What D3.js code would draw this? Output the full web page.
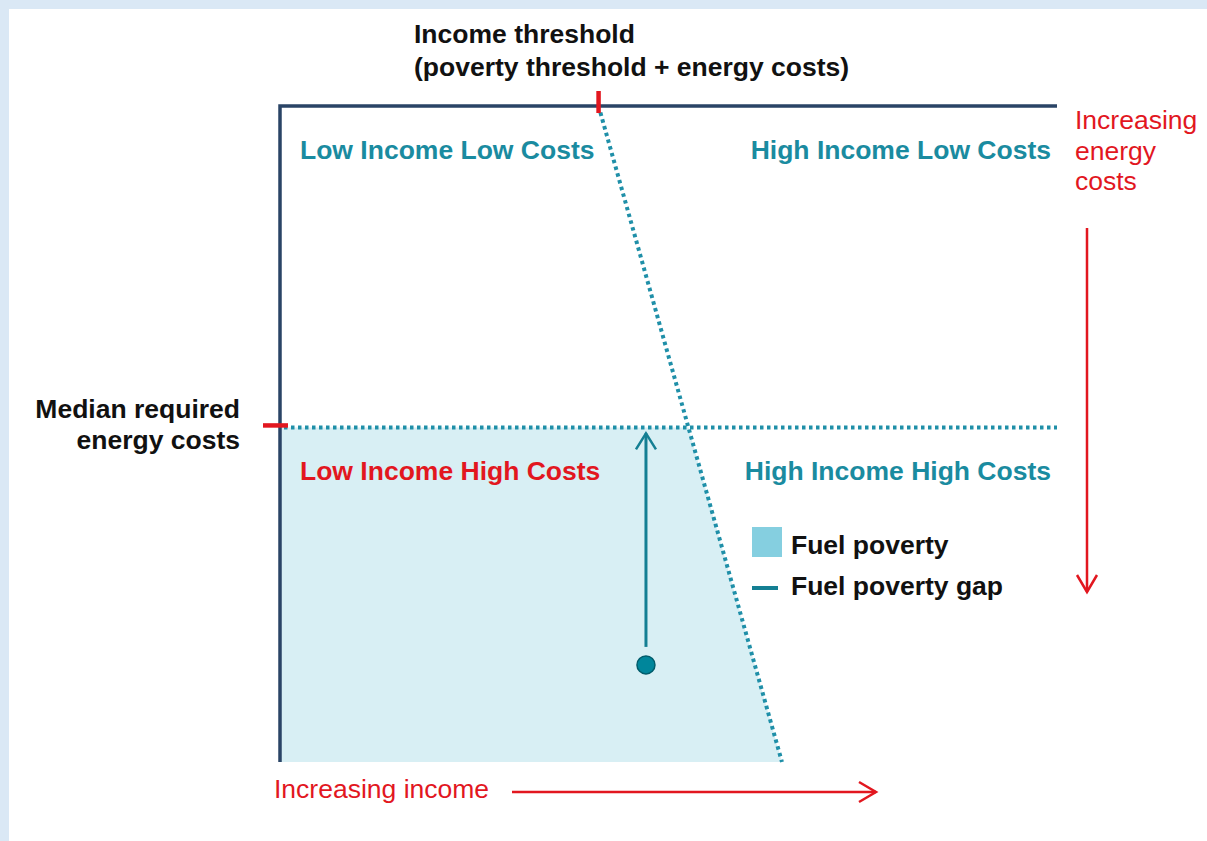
<!DOCTYPE html>
<html lang="en">
<head>
<meta charset="UTF-8">
<title>Fuel poverty</title>
<script src="https://d3js.org/d3.v7.min.js"></script>
<style>
  body { margin: 0; background: #dae8f5; }
  svg { display: block; }
  text { font-family: "Liberation Sans", Arial, Helvetica, sans-serif; }
</style>
</head>
<body>
<script>
var W = 1207, H = 841;

// conceptual axes: income 0..100 left->right, energy costs 0..100 top->bottom
var incomeDomain = [0, 100];
var costDomain = [0, 100];
var medianCost = 49;
// income threshold at zero cost and at max cost
var thresholdIncome = [41, 64.6];
var gapPoint = {income: 47.1, cost: 85.2};

var quadrants = ["Low Income Low Costs", "High Income Low Costs", "Low Income High Costs", "High Income High Costs"];
var legendLabels = ["Fuel poverty", "Fuel poverty gap"];

var x = d3.scaleLinear().domain(incomeDomain).range([280, 1057]);
var y = d3.scaleLinear().domain(costDomain).range([106, 762]);

var teal = "#1a8ba0", red = "#e2171f", navy = "#2a4466", dot = "#1f8fa8", FS = 26.5;

var svg = d3.select("body").append("svg").attr("width", W).attr("height", H);
svg.append("rect").attr("x", 9).attr("y", 9).attr("width", W - 9).attr("height", H - 9).attr("fill", "#fff");

var defs = svg.append("defs");
function marker(id, color, w, h) {
  defs.append("marker").attr("id", id).attr("viewBox", "-25 -25 50 50")
    .attr("refX", 0).attr("refY", 0).attr("markerWidth", 50).attr("markerHeight", 50)
    .attr("markerUnits", "userSpaceOnUse").attr("orient", "auto")
    .append("path").attr("d", "M" + (-w) + "," + (-h) + " L0,0 L" + (-w) + "," + h).attr("fill", "none")
    .attr("stroke", color).attr("stroke-width", 2.5);
}
marker("arrRed", red, 17, 10);
marker("arrTeal", "#147f93", 16, 10);

// threshold line function of cost
function thrX(c) {
  return x(thresholdIncome[0] + (thresholdIncome[1] - thresholdIncome[0]) * (c - costDomain[0]) / (costDomain[1] - costDomain[0]));
}

// fuel poverty area
var poly = [[x(0), y(medianCost)], [thrX(medianCost), y(medianCost)], [thrX(costDomain[1]), y(costDomain[1])], [x(0), y(costDomain[1])]];
svg.append("path").attr("d", "M" + poly.join("L") + "Z").attr("fill", "#d8eff4");

// frame: top and left
svg.append("path").attr("d", "M" + x(0) + "," + y(costDomain[1]) + "V" + y(0) + "H" + x(100))
  .attr("fill", "none").attr("stroke", navy).attr("stroke-width", 3.5);

// dotted lines
svg.append("line").attr("x1", x(0) + 4).attr("x2", x(100)).attr("y1", y(medianCost)).attr("y2", y(medianCost))
  .attr("stroke", dot).attr("stroke-width", 4).attr("stroke-dasharray", "3.5,3.5");
svg.append("line").attr("x1", thrX(1)).attr("y1", y(1)).attr("x2", thrX(100)).attr("y2", y(100))
  .attr("stroke", dot).attr("stroke-width", 4).attr("stroke-dasharray", "3.5,3.5");

// red ticks
svg.append("line").attr("x1", thrX(0)).attr("x2", thrX(0)).attr("y1", y(0) - 15).attr("y2", y(0) + 7)
  .attr("stroke", red).attr("stroke-width", 4.5);
svg.append("line").attr("x1", x(0) - 17).attr("x2", x(0) + 8).attr("y1", y(medianCost) - 2).attr("y2", y(medianCost) - 2)
  .attr("stroke", red).attr("stroke-width", 4.5);

// fuel poverty gap arrow
svg.append("line").attr("x1", x(gapPoint.income)).attr("x2", x(gapPoint.income))
  .attr("y1", y(gapPoint.cost) - 18).attr("y2", y(medianCost) + 6)
  .attr("stroke", "#147f93").attr("stroke-width", 3).attr("marker-end", "url(#arrTeal)");
svg.append("circle").attr("cx", x(gapPoint.income)).attr("cy", y(gapPoint.cost)).attr("r", 9)
  .attr("fill", "#00869b").attr("stroke", "#005c6b").attr("stroke-width", 1.5);

// quadrant labels
function label(t, px, py, anchor, color) {
  svg.append("text").attr("x", px).attr("y", py).attr("text-anchor", anchor)
    .attr("font-size", FS).attr("font-weight", "bold").attr("fill", color).text(t);
}
label(quadrants[0], 300, 159, "start", teal);
label(quadrants[1], 1051, 159, "end", teal);
label(quadrants[2], 300, 480, "start", red);
label(quadrants[3], 1051, 480, "end", teal);

// top annotation
var thresholdText = svg.append("text").attr("font-size", FS).attr("font-weight", "bold").attr("fill", "#111");
thresholdText.append("tspan").attr("x", 414).attr("y", 43).text("Income threshold");
thresholdText.append("tspan").attr("x", 414).attr("y", 76).text("(poverty threshold + energy costs)");

// left annotation
var med = svg.append("text").attr("font-size", FS).attr("font-weight", "bold").attr("fill", "#111").attr("text-anchor", "end");
med.append("tspan").attr("x", 240).attr("y", 418).text("Median required");
med.append("tspan").attr("x", 240).attr("y", 449).text("energy costs");

// right annotation
var inc = svg.append("text").attr("font-size", FS).attr("fill", red);
["Increasing", "energy", "costs"].forEach(function (t, i) {
  inc.append("tspan").attr("x", 1075).attr("y", 129 + i * 30.5).text(t);
});
svg.append("line").attr("x1", 1087).attr("x2", 1087).attr("y1", 228).attr("y2", 592)
  .attr("stroke", red).attr("stroke-width", 2.5).attr("marker-end", "url(#arrRed)");

// bottom annotation
svg.append("text").attr("x", 274).attr("y", 798).attr("font-size", FS).attr("fill", red).text("Increasing income");
svg.append("line").attr("x1", 512).attr("x2", 876).attr("y1", 792).attr("y2", 792)
  .attr("stroke", red).attr("stroke-width", 2.5).attr("marker-end", "url(#arrRed)");

// legend
svg.append("rect").attr("x", 752).attr("y", 527).attr("width", 30).attr("height", 30).attr("fill", "#85cfe0");
svg.append("line").attr("x1", 752).attr("x2", 778).attr("y1", 588).attr("y2", 588).attr("stroke", "#147f93").attr("stroke-width", 4);
legendLabels.forEach(function (t, i) {
  svg.append("text").attr("x", 791).attr("y", 554 + i * 41).attr("font-size", FS).attr("font-weight", "bold")
    .attr("fill", "#111").text(t);
});
</script>
</body>
</html>
